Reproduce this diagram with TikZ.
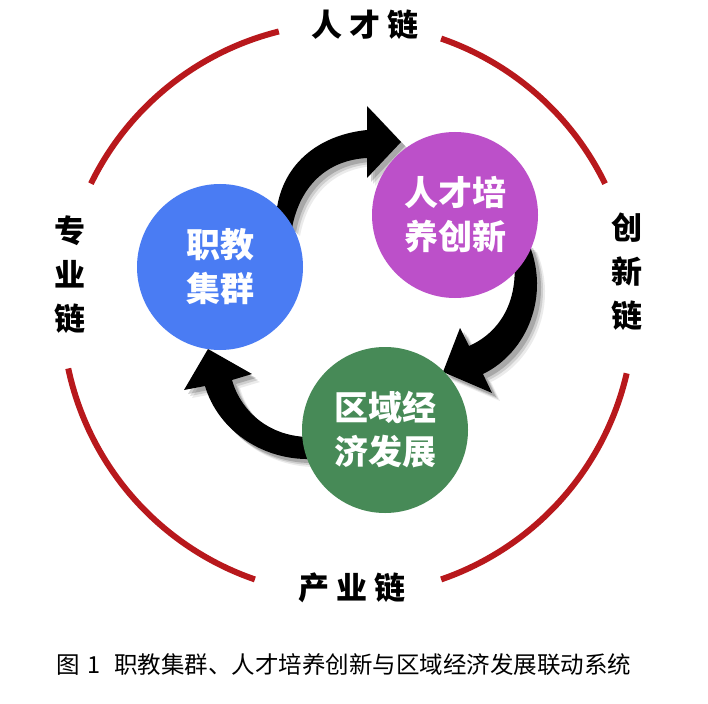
\documentclass[tikz,border=0pt]{standalone}
\usepackage{fontspec}
\newfontfamily\cjk{Noto Sans CJK SC}
\definecolor{chainred}{RGB}{184,24,28}
\definecolor{hubblue}{RGB}{74,124,243}
\definecolor{hubpink}{RGB}{188,80,201}
\definecolor{hubgreen}{RGB}{71,138,87}
\tikzset{
  arrowone/.pic={\path[pic actions] (276,216) .. controls (280,165) and (318,135) .. (367,130)
      -- (367,106) -- (401,142) -- (367,178) -- (367,158)
      .. controls (328,160) and (300,185) .. (292,228) -- cycle;},
  arrowtwo/.pic={\path[pic actions] (512,246) -- (529,244)
      .. controls (550,295) and (528,352) .. (483,374)
      -- (492,393) -- (443,372) -- (460,328) -- (469,346)
      .. controls (503,331) and (522,295) .. (512,246) -- cycle;},
  arrowthree/.pic={\path[pic actions] (310,459) .. controls (262,460) and (218,430) .. (205,386)
      -- (184,390) -- (208,349) -- (252,374) -- (232,380)
      .. controls (241,412) and (270,437) .. (310,437) -- cycle;},
}
\begin{document}
\begin{tikzpicture}[x=1pt,y=-1pt,
  chain/.style={line width=6pt, draw=chainred},
  hub/.style={circle, minimum size=166pt, inner sep=0pt, text=white,
    font=\cjk\bfseries\fontsize{34}{44}\selectfont, align=center},
  ring/.style={font=\cjk\bfseries\fontsize{31}{44}\selectfont, align=center, inner sep=0pt},
  caption/.style={font=\cjk\fontsize{23.5}{24}\selectfont, inner sep=0pt}]
\useasboundingbox (0,0) rectangle (708,703);
\fill[white] (0,0) rectangle (708,703);
\coordinate (C) at (348,309);
% red ring segments
\draw[chain] ([shift={(26:286pt)}]C) arc[start angle=26,end angle=71,radius=286pt];
\draw[chain] ([shift={(104:286pt)}]C) arc[start angle=104,end angle=154,radius=286pt];
\draw[chain] ([shift={(192:286pt)}]C) arc[start angle=192,end angle=251,radius=286pt];
\draw[chain] ([shift={(289:286pt)}]C) arc[start angle=289,end angle=347,radius=286pt];
% ring labels
\node[ring] (top) at (365,25) {人\hspace{7pt}才\hspace{7pt}链};
\node[ring] (bottom) at (352,588) {产\hspace{7pt}业\hspace{7pt}链};
\node[ring] (left) at (70,275) {专\\业\\链};
\node[ring] (right) at (627,272) {创\\新\\链};
% arrow shadows
\foreach \d/\o in {8/0.08,6/0.12,4/0.18}{
  \pic[fill=black, fill opacity=\o] at (\d,\d) {arrowone};
  \pic[fill=black, fill opacity=\o] at (\d,\d) {arrowtwo};
  \pic[fill=black, fill opacity=\o] at (\d,\d) {arrowthree};
}
% arrows
\pic[fill=black] at (0,0) {arrowone};
\pic[fill=black] at (0,0) {arrowtwo};
\pic[fill=black] at (0,0) {arrowthree};
% hubs
\node[hub, fill=hubblue] (zj) at (220,267) {职教\\集群};
\node[hub, fill=hubpink] (rc) at (455,215) {人才培\\养创新};
\node[hub, fill=hubgreen] (qy) at (385,430) {区域经\\济发展};
% caption
\node[caption] (cap) at (344,665) {图\hspace{7pt}1\hspace{14pt}职教集群、人才培养创新与区域经济发展联动系统};
\end{tikzpicture}
\end{document}
